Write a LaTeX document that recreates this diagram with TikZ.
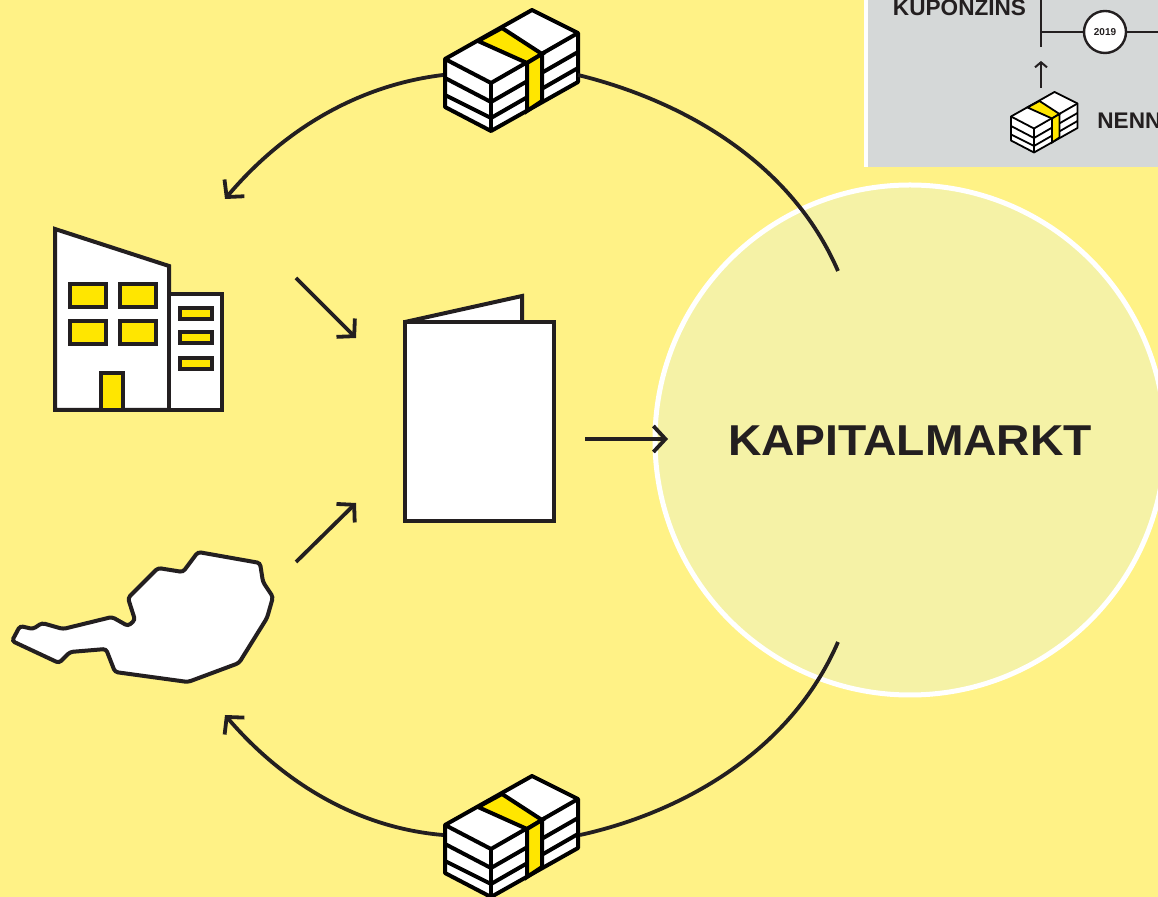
\documentclass[tikz,border=0pt]{standalone}
\usepackage{xcolor}
\usepackage{fontspec}
\usepackage{tikz}
\usetikzlibrary{arrows.meta}
\setmainfont{Liberation Sans}
\newfontfamily\marketfont[FakeStretch=1.07]{Liberation Sans}

\definecolor{bgyellow}{HTML}{FFF286}
\definecolor{marketfill}{HTML}{F5F2A6}
\definecolor{signal}{HTML}{FFE600}
\definecolor{inkblack}{HTML}{231F20}
\definecolor{insetgray}{HTML}{D5D8D8}

\tikzset{
  flow/.style={draw=inkblack, line width=1.9pt, -{Straight Barb[length=6pt,width=13pt]}},
  plainflow/.style={draw=inkblack, line width=1.9pt},
  shapeline/.style={draw=inkblack, line width=2pt, line join=miter, fill=white},
  windowbox/.style={draw=inkblack, line width=2pt, fill=signal},
  insetline/.style={draw=inkblack, line width=1.2pt},
  moneystack/.pic={
    \draw[fill=white, line join=round] (0,49)--(87,0)--(133,23)--(133,72)--(46,121)--(0,97)--cycle;
    \draw (0,49)--(46,73)--(133,23);
    \draw (46,73)--(46,121);
    \draw (0,68)--(46,92)--(133,42);
    \draw (0,85)--(46,108)--(133,58);
    \draw[fill=signal] (33,31)--(57,18)--(97,44)--(82,53)--cycle;
    \draw[fill=signal] (82,53)--(97,44)--(97,91)--(82,101)--cycle;
  }
}

\begin{document}
\begin{tikzpicture}[x=.5pt,y=-.5pt]
  \useasboundingbox (0,0) rectangle (1158,897);
  \clip (0,0) rectangle (1158,897);
  \fill[bgyellow] (0,0) rectangle (1158,897);

  % inset top right
  \fill[white] (864,0) rectangle (1158,167);
  \fill[insetgray] (868,0) rectangle (1158,167);
  \node[inner sep=0pt, text=inkblack, font=\fontsize{11.3pt}{12pt}\selectfont\bfseries] (kupon) at (959.5,8) {KUPONZINS};
  \node[inner sep=0pt, anchor=west, text=inkblack, font=\fontsize{11.3pt}{12pt}\selectfont\bfseries] (nenn) at (1097,121) {NENN};
  \node[circle, draw=inkblack, line width=1.2pt, fill=white, minimum size=21pt, inner sep=0pt, text=inkblack, font=\fontsize{5pt}{6pt}\selectfont\bfseries] (year) at (1105,32) {2019};
  \coordinate (barTop) at (1041,0);
  \coordinate (barEnd) at (1041,47);
  \coordinate (barMid) at (1041,32);
  \coordinate (lineEnd) at (1158,32);
  \coordinate (smallFrom) at (1041,88);
  \coordinate (smallTo) at (1041,61);
  \draw[insetline] (barTop) -- (barEnd);
  \draw[insetline] (barMid) -- (year);
  \draw[insetline] (year) -- (lineEnd);
  \draw[insetline, line width=1pt, -{Straight Barb[length=2.5pt,width=6pt]}] (smallFrom) -- (smallTo);
  \pic[line width=.9pt, scale=.5] at (1011,92) {moneystack};

  % market
  \node[circle, draw=white, line width=2.5pt, fill=marketfill, minimum size=255pt, inner sep=0pt] (market) at (910,440) {};
  \node[inner sep=0pt, text=inkblack, font=\marketfont\fontsize{21.6pt}{24pt}\selectfont\bfseries] (markettext) at (910,441) {KAPITALMARKT};

  % building
  \draw[shapeline] (55,229)--(169,266)--(169,410)--(55,410)--cycle;
  \draw[shapeline] (169,294)--(222,294)--(222,410)--(169,410)--cycle;
  \foreach \bx in {70,120} {
    \foreach \by in {284,321} {
      \draw[windowbox] (\bx,\by) rectangle ++(36,23);
    }
  }
  \draw[windowbox] (101,373) rectangle (123,410);
  \foreach \by in {308,332,358} {
    \draw[windowbox] (180,\by) rectangle ++(32,11);
  }

  % brochure
  \draw[shapeline] (405,322)--(522,296)--(522,322);
  \draw[shapeline] (405,322) rectangle (554,521);

  % austria
  \draw[shapeline, rounded corners=1.5pt] (12,641)--(20,626)--(33,629)--(42,623)--(63,629)--(112,617)--(128,626)--(135,620)--(128,598)--(158,568)--(183,572)--(198,552)--(260,563)--(263,582)--(273,597)--(267,618)--(239,663)--(188,682)--(115,672)--(106,649)--(70,652)--(59,663)--cycle;

  % money
  \pic[line width=2pt] at (445,10) {moneystack};
  \pic[line width=2pt] at (445,776) {moneystack};

  \coordinate (topRight) at (578,75);
  \coordinate (topLeft) at (443,75);
  \coordinate (bottomRight) at (580,835);
  \coordinate (bottomLeft) at (443,835);
  \coordinate (marketTop) at (838,271);
  \coordinate (marketBottom) at (838,642);
  \coordinate (buildingTip) at (225,199);
  \coordinate (austriaTip) at (225,715);
  \coordinate (buildingOut) at (296,278);
  \coordinate (austriaOut) at (296,562);
  \coordinate (brochureUp) at (356,338);
  \coordinate (brochureDown) at (356,503);
  \coordinate (brochureOut) at (585,439);
  \coordinate (marketIn) at (668,439);

  \draw[plainflow] (topRight) .. controls (680,100) and (790,160) .. (marketTop);
  \draw[flow] (topLeft) .. controls (360,85) and (285,128) .. (buildingTip);
  \draw[plainflow] (marketBottom) .. controls (790,753) and (680,813) .. (bottomRight);
  \draw[flow] (bottomLeft) .. controls (360,828) and (285,785) .. (austriaTip);
  \draw[flow] (buildingOut) -- (brochureUp);
  \draw[flow] (austriaOut) -- (brochureDown);
  \draw[flow] (brochureOut) -- (marketIn);
\end{tikzpicture}
\end{document}
